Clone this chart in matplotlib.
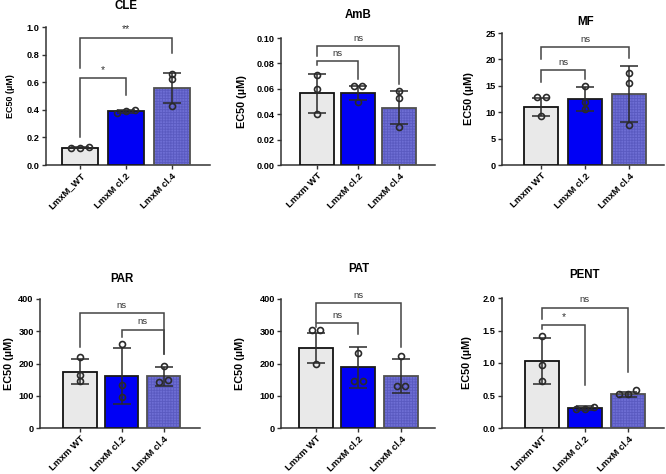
import numpy as np
import matplotlib
matplotlib.use("Agg")
import matplotlib.pyplot as plt
from matplotlib.ticker import FormatStrFormatter

plt.rcParams['font.family'] = ['Liberation Sans', 'DejaVu Sans']
plt.rcParams['font.weight'] = 'bold'
plt.rcParams['hatch.linewidth'] = 0.6

# ---------------- data ----------------
titles = ["CLE", "AmB", "MF", "PAR", "PAT", "PENT"]
labels_cle = ["LmxM_WT", "LmxM cl.2", "LmxM cl.4"]
labels_other = ["Lmxm WT", "LmxM cl.2", "LmxM cl.4"]

cle_mean = [0.125, 0.39, 0.56]
cle_sd = [0.005, 0.01, 0.11]
cle_pts = [[0.12, 0.125, 0.13], [0.38, 0.39, 0.40], [0.66, 0.62, 0.43]]

amb_mean = [0.0565, 0.0565, 0.045]
amb_sd = [0.0155, 0.0055, 0.013]
amb_pts = [[0.071, 0.060, 0.040], [0.062, 0.062, 0.050], [0.058, 0.053, 0.030]]

mf_mean = [11.0, 12.5, 13.4]
mf_sd = [1.75, 2.2, 5.3]
mf_pts = [[12.8, 12.8, 9.3], [15.0, 12.0, 10.6], [17.5, 15.5, 7.5]]

par_mean = [175, 162, 160]
par_sd = [40, 87, 29]
par_pts = [[220, 165, 145], [262, 133, 95], [192, 150, 142]]

pat_mean = [248, 188, 160]
pat_sd = [46, 63, 53]
pat_pts = [[305, 305, 200], [232, 145, 145], [222, 130, 130]]

pent_mean = [1.03, 0.31, 0.52]
pent_sd = [0.35, 0.03, 0.04]
pent_pts = [[1.41, 0.97, 0.72], [0.30, 0.33, 0.30], [0.52, 0.58, 0.52]]

# brackets: (group i, group j, bar height, left leg end, right leg end, text)
cle_sig = [(0, 2, 0.92, 0.70, 0.81, "**"), (0, 1, 0.63, 0.20, 0.51, "*")]
amb_sig = [(0, 2, 0.0937, 0.086, 0.064, "ns"), (0, 1, 0.0817, 0.0786, 0.068, "ns")]
mf_sig = [(0, 2, 22.3, 20.0, 20.3, "ns"), (0, 1, 17.9, 15.8, 16.2, "ns")]
par_sig = [(0, 2, 356, 251, 230, "ns"), (1, 2, 304, 282, 230, "ns")]
pat_sig = [(0, 2, 387, 328, 251, "ns"), (0, 1, 325, 313, 292, "ns")]
pent_sig = [(0, 2, 1.85, 1.68, 0.86, "ns"), (0, 1, 1.58, 1.53, 0.66, "*")]

y_ticks = [np.arange(0, 1.01, 0.2), np.arange(0, 0.101, 0.02), np.arange(0, 26, 5),
           np.arange(0, 401, 100), np.arange(0, 401, 100), np.arange(0, 2.01, 0.5)]
y_fmt = ["%.1f", "%.2f", "%d", "%d", "%d", "%.1f"]

# ---------------- layout ----------------
W, H = 666, 474
fig = plt.figure(figsize=(W / 100, H / 100), dpi=100)

# (left, right, top, bottom) in pixels, xlim, title offset px, ylabel distance px, ylabel size
panels = [
    dict(box=(46, 210, 27, 165), xlim=(-0.74, 2.83), toff=21, ylab=31, ysz=6.5, bw=0.78),
    dict(box=(281, 435, 38, 165), xlim=(-0.88, 2.88), toff=23, ylab=34, ysz=7.8, bw=0.82),
    dict(box=(502, 664, 33, 165), xlim=(-0.9, 2.8), toff=11, ylab=28, ysz=7.8, bw=0.78),
    dict(box=(40, 200, 299, 428), xlim=(-0.95, 2.87), toff=20, ylab=26, ysz=7.8, bw=0.8),
    dict(box=(281, 435, 299, 428), xlim=(-0.82, 2.8), toff=30, ylab=36, ysz=7.8, bw=0.8),
    dict(box=(502, 664, 298, 428), xlim=(-0.93, 2.84), toff=23, ylab=30, ysz=7.8, bw=0.78),
]

means = [cle_mean, amb_mean, mf_mean, par_mean, pat_mean, pent_mean]
sds = [cle_sd, amb_sd, mf_sd, par_sd, pat_sd, pent_sd]
pts = [cle_pts, amb_pts, mf_pts, par_pts, pat_pts, pent_pts]
sigs = [cle_sig, amb_sig, mf_sig, par_sig, pat_sig, pent_sig]
xlabels = [labels_cle] + [labels_other] * 5

faces = ["#e9e9e9", "#0000f5", "#6e6ed4"]
edges = ["#111111", "#1a1a1a", "#505050"]
hatch_col = "#5a5ac0"
ink = "#2a2a2a"

for k in range(6):
    p = panels[k]
    l, r, t, b = p["box"]
    ax = fig.add_axes([l / W, 1 - b / H, (r - l) / W, (b - t) / H])
    x = np.arange(3)
    ymax = y_ticks[k][-1]
    for i in range(3):
        if i == 2:
            ax.bar(x[i], means[k][i], width=p["bw"], color=faces[i], edgecolor=hatch_col,
                   hatch="++++++", linewidth=0, zorder=2)
            ax.bar(x[i], means[k][i], width=p["bw"], fill=False, edgecolor=edges[i],
                   linewidth=1.3, zorder=3)
        else:
            ax.bar(x[i], means[k][i], width=p["bw"], color=faces[i], edgecolor=edges[i],
                   linewidth=1.3, zorder=3)
        ax.errorbar(x[i], means[k][i], yerr=sds[k][i], fmt="none", ecolor=ink,
                    elinewidth=1.1, capsize=6.5, capthick=1.1, zorder=5)
        # points: spread horizontally when values nearly coincide
        vals = np.array(pts[k][i], dtype=float)
        offs = np.zeros(3)
        order = np.argsort(vals)
        groups = [[order[0]]]
        for j in order[1:]:
            if abs(vals[j] - vals[groups[-1][-1]]) < 0.035 * ymax:
                groups[-1].append(j)
            else:
                groups.append([j])
        for g in groups:
            n = len(g)
            for m, j in enumerate(g):
                offs[j] = (m - (n - 1) / 2) * 0.2
        ax.plot(x[i] + offs, vals, "o", ms=4.3, mfc="none", mec=ink, mew=1.2,
                zorder=6, clip_on=False)

    # significance brackets
    for (i, j, yb, yl, yr, txt) in sigs[k]:
        ax.plot([x[i], x[i], x[j], x[j]], [yl, yb, yb, yr], color="#444444",
                lw=1.1, zorder=4, clip_on=False, solid_joinstyle="miter")
        ax.annotate(txt, xy=((x[i] + x[j]) / 2, yb), xytext=(0, 2.5),
                    textcoords="offset points", ha="center", va="bottom",
                    fontsize=6.8 if txt == "ns" else 7.5, fontweight="normal",
                    color="#333333", annotation_clip=False)

    ax.set_xlim(*p["xlim"])
    ax.set_ylim(0, ymax)
    ax.set_yticks(y_ticks[k])
    ax.yaxis.set_major_formatter(FormatStrFormatter(y_fmt[k]))
    ax.set_xticks(x)
    ax.set_xticklabels(xlabels[k], rotation=45, ha="right", rotation_mode="anchor",
                       fontsize=6.8, fontweight="bold")
    for lab in ax.get_yticklabels():
        lab.set_fontsize(6.6)
        lab.set_fontweight("bold")
    ax.tick_params(axis="both", direction="out", length=3, width=1.0, color="#333333",
                   pad=1.5)
    for s in ["top", "right"]:
        ax.spines[s].set_visible(False)
    for s in ["left", "bottom"]:
        ax.spines[s].set_linewidth(1.1)
        ax.spines[s].set_color("#333333")
    ax.set_ylabel("EC50 (\u00b5M)", fontsize=p["ysz"], fontweight="bold")
    ax.yaxis.set_label_coords(-p["ylab"] / (r - l), 0.5)
    ax.annotate(titles[k], xy=(1, 1), xycoords=("data", "axes fraction"),
                xytext=(0, p["toff"] * 0.72), textcoords="offset points",
                ha="center", va="center", fontsize=8.3, fontweight="bold",
                annotation_clip=False)

fig.savefig("out.png", dpi=100)
